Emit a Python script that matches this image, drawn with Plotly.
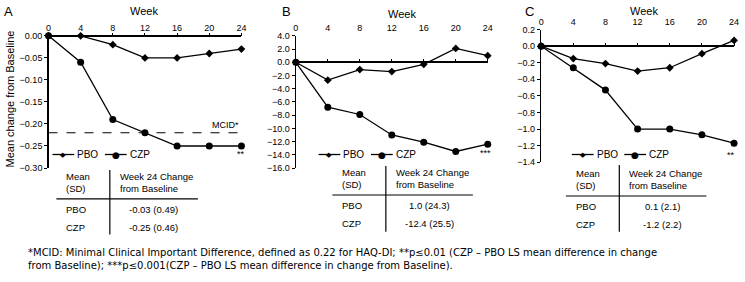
import plotly.graph_objects as go

W, H = 745, 282
weeks = [0, 4, 8, 12, 16, 20, 24]

pbo_a = [0.0, 0.0, -0.02, -0.05, -0.05, -0.04, -0.03]
czp_a = [0.0, -0.06, -0.19, -0.22, -0.25, -0.25, -0.25]
mcid = -0.22

pbo_b = [0.0, -2.7, -1.1, -1.4, -0.3, 2.1, 1.0]
czp_b = [0.0, -6.8, -7.9, -11.0, -12.1, -13.5, -12.4]

pbo_c = [0.0, -0.15, -0.21, -0.30, -0.26, -0.09, 0.07]
czp_c = [0.0, -0.26, -0.53, -1.00, -1.00, -1.07, -1.17]

table_a = [["PBO", "-0.03 (0.49)"], ["CZP", "-0.25 (0.46)"]]
table_b = [["PBO", "1.0 (24.3)"], ["CZP", "-12.4 (25.5)"]]
table_c = [["PBO", "0.1 (2.1)"], ["CZP", "-1.2 (2.2)"]]

sig = ["**", "***", "**"]

footnote = ("*MCID: Minimal Clinical Important Difference, defined as 0.22 for HAQ-DI; **p\u22640.01 (CZP \u2013 PBO LS mean difference in change<br>"
            "from Baseline); ***p\u22640.001(CZP \u2013 PBO LS mean difference in change from Baseline).")


def px(x):
    return x / W


def py(y):
    return 1 - y / H


FONT = "Liberation Sans, Arial, sans-serif"

fig = go.Figure()

panels = [
    dict(ax="", pbo=pbo_a, czp=czp_a, xd=(46, 241), yd=(32, 169), rng=[-0.30, 0.0],
         dtick=0.05, fmt=".2f", leg=(50, 155), letter="A", lx=6, ly=7,
         wx=143, wy=6, tbl=table_a, tx=(54, 108, 197), ty=(171, 201, 238), sx=241, sy=154),
    dict(ax="2", pbo=pbo_b, czp=czp_b, xd=(296, 490), yd=(32, 169), rng=[-16, 4],
         dtick=2, fmt=".1f", leg=(319, 155), letter="B", lx=287, ly=7,
         wx=403, wy=9, tbl=table_b, tx=(333, 387, 475), ty=(167, 197, 235), sx=488, sy=153),
    dict(ax="3", pbo=pbo_c, czp=czp_c, xd=(544, 739), yd=(25.5, 163), rng=[-1.4, 0.2],
         dtick=0.2, fmt=".1f", leg=(575, 155), letter="C", lx=532, ly=7,
         wx=648, wy=6, tbl=table_c, tx=(569, 623, 711), ty=(166, 198, 235), sx=736, sy=156),
]

annotations = []
shapes = []

for i, p in enumerate(panels):
    xa = "x" + p["ax"]
    ya = "y" + p["ax"]
    fig.add_trace(go.Scatter(x=weeks, y=p["pbo"], mode="lines+markers", name="PBO",
                             line=dict(color="black", width=1.3),
                             marker=dict(symbol="diamond", size=6, color="black"),
                             xaxis=xa, yaxis=ya, showlegend=False, cliponaxis=False))
    fig.add_trace(go.Scatter(x=weeks, y=p["czp"], mode="lines+markers", name="CZP",
                             line=dict(color="black", width=1.3),
                             marker=dict(symbol="circle", size=7, color="black"),
                             xaxis=xa, yaxis=ya, showlegend=False, cliponaxis=False))
    if i == 0:
        fig.add_trace(go.Scatter(x=[weeks[0], weeks[-1]], y=[mcid, mcid], mode="lines",
                                 line=dict(color="black", width=1.2, dash="dash"),
                                 showlegend=False, xaxis=xa, yaxis=ya, hoverinfo="skip"))
        annotations.append(dict(x=weeks[-1], y=mcid, xref=xa, yref=ya, text="MCID*",
                                showarrow=False, xanchor="right", yanchor="bottom",
                                yshift=1, font=dict(size=9, family=FONT)))

    xkey = "xaxis" + p["ax"]
    ykey = "yaxis" + p["ax"]
    ydom = [py(p["yd"][1]), py(p["yd"][0])]
    fig.layout[xkey] = dict(domain=[px(p["xd"][0]), px(p["xd"][1])], range=[0, 24],
                            side="top", tickvals=weeks, ticks="", showline=False,
                            showgrid=False, zeroline=False, anchor=ya,
                            tickfont=dict(size=9, family=FONT, color="black"), ticklabelstandoff=2)
    fig.layout[ykey] = dict(domain=ydom, range=p["rng"],
                            dtick=p["dtick"], tick0=0, tickformat=p["fmt"], ticks="outside",
                            ticklen=3, tickcolor="black", showline=True, linecolor="black",
                            linewidth=1.3, showgrid=False, zeroline=True, zerolinecolor="black",
                            zerolinewidth=1.6, anchor=xa,
                            tickfont=dict(size=9, family=FONT, color="black"))

    # tick marks sitting on the zero line (overlay axis)
    r0, r1 = p["rng"]
    zero_pos = ydom[0] + (0 - r0) / (r1 - r0) * (ydom[1] - ydom[0])
    tick_ax = str(4 + i)
    fig.layout["xaxis" + tick_ax] = dict(overlaying=xa, matches=xa, anchor="free",
                                         position=zero_pos, side="top", tickvals=weeks,
                                         ticks="outside", ticklen=3, tickcolor="black",
                                         tickwidth=1, showticklabels=False, showline=False,
                                         showgrid=False, zeroline=False,
                                         domain=[px(p["xd"][0]), px(p["xd"][1])])
    fig.add_trace(go.Scatter(x=[weeks[0]], y=[0], mode="markers", marker=dict(size=1, opacity=0),
                             xaxis="x" + tick_ax, yaxis=ya, showlegend=False, hoverinfo="skip"))

    # manual legend
    lx0, ly0 = p["leg"]
    for k, (nm, glyph, gs) in enumerate([("PBO", "\u25c6", 7), ("CZP", "\u25cf", 9)]):
        gx = lx0 + k * 53
        shapes.append(dict(type="line", xref="paper", yref="paper", x0=px(gx), x1=px(gx + 22),
                           y0=py(ly0), y1=py(ly0), line=dict(color="black", width=1.3)))
        annotations.append(dict(x=px(gx + 11), y=py(ly0), xref="paper", yref="paper", text=glyph,
                                showarrow=False, xanchor="center", yanchor="middle",
                                font=dict(size=gs, family="DejaVu Sans", color="black")))
        annotations.append(dict(x=px(gx + 23), y=py(ly0), xref="paper", yref="paper", text=nm,
                                showarrow=False, xanchor="left", yanchor="middle",
                                font=dict(size=10, family=FONT)))

    annotations.append(dict(x=px(p["lx"]), y=py(p["ly"]), xref="paper", yref="paper",
                            text=p["letter"], showarrow=False, xanchor="center", yanchor="middle",
                            font=dict(size=13, family=FONT)))
    annotations.append(dict(x=px(p["wx"]), y=py(p["wy"]), xref="paper", yref="paper",
                            text="Week", showarrow=False, xanchor="center", yanchor="middle",
                            font=dict(size=11, family=FONT)))
    annotations.append(dict(x=px(p["sx"]), y=py(p["sy"]), xref="paper", yref="paper",
                            text=sig[i], showarrow=False, xanchor="center", yanchor="middle",
                            font=dict(size=9, family=FONT)))

    # table
    x0, xm, x1 = p["tx"]
    y0, ym, y1 = p["ty"]
    shapes.append(dict(type="line", xref="paper", yref="paper", x0=px(x0), x1=px(x1),
                       y0=py(ym), y1=py(ym), line=dict(color="black", width=1.2)))
    shapes.append(dict(type="line", xref="paper", yref="paper", x0=px(xm), x1=px(xm),
                       y0=py(y0), y1=py(y1), line=dict(color="black", width=1.2)))
    annotations.append(dict(x=px(x0 + 8), y=py(ym - 3), xref="paper", yref="paper",
                            text="Mean<br>(SD)", showarrow=False, xanchor="left", yanchor="bottom",
                            align="left", font=dict(size=9.5, family=FONT)))
    annotations.append(dict(x=px(xm + 8), y=py(ym - 3), xref="paper", yref="paper",
                            text="Week 24 Change<br>from Baseline", showarrow=False, xanchor="left",
                            yanchor="bottom", align="left", font=dict(size=9.5, family=FONT)))
    for j, (g, v) in enumerate(p["tbl"]):
        yy = ym + 11 + j * 19
        annotations.append(dict(x=px(x0 + 8), y=py(yy), xref="paper", yref="paper", text=g,
                                showarrow=False, xanchor="left", yanchor="middle",
                                font=dict(size=9.5, family=FONT)))
        annotations.append(dict(x=px((xm + x1) / 2), y=py(yy), xref="paper", yref="paper", text=v,
                                showarrow=False, xanchor="center", yanchor="middle",
                                font=dict(size=9.5, family=FONT)))

annotations.append(dict(x=px(7), y=py(97), xref="paper", yref="paper",
                        text="Mean change from Baseline", textangle=-90, showarrow=False,
                        xanchor="center", yanchor="middle", font=dict(size=11, family=FONT)))
annotations.append(dict(x=px(23), y=py(263), xref="paper", yref="paper", text=footnote,
                        showarrow=False, xanchor="left", yanchor="middle", align="left",
                        font=dict(size=10, family="DejaVu Sans, Verdana, sans-serif")))

fig.update_layout(width=W, height=H, margin=dict(l=0, r=0, t=0, b=0),
                  paper_bgcolor="white", plot_bgcolor="white",
                  annotations=annotations, shapes=shapes, showlegend=False,
                  font=dict(family=FONT, color="black"))

fig.write_html("out.html", config={"displayModeBar": False, "staticPlot": True},
               post_script=("var s=document.createElement('style');"
                            "s.innerHTML='html,body{margin:0;padding:0;overflow:hidden;"
                            "width:745px;height:282px;}';"
                            "document.head.appendChild(s);"))
